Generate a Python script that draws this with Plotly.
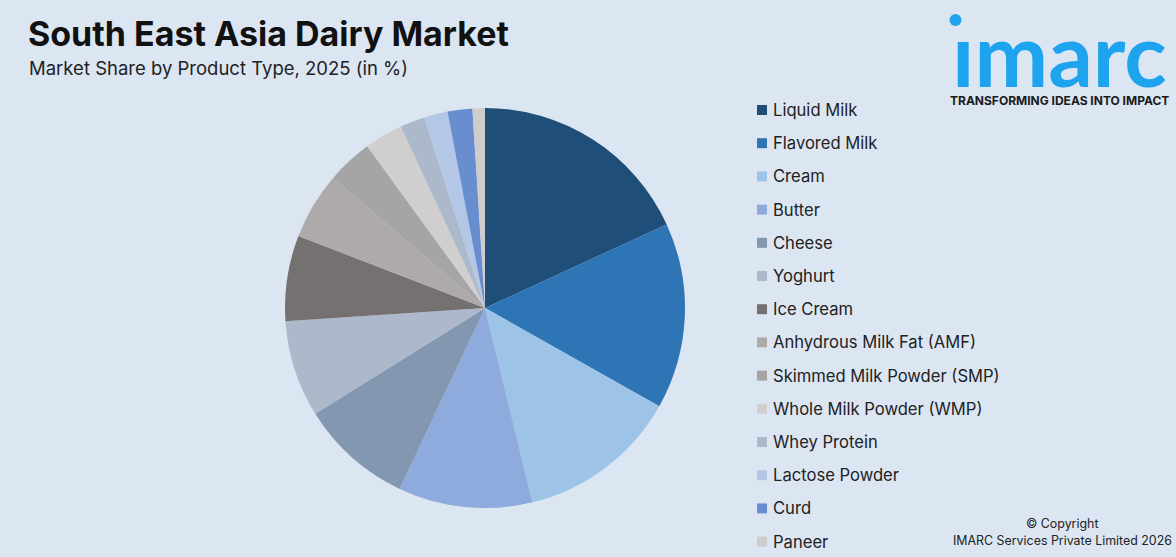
import plotly.graph_objects as go

categories = ["Liquid Milk", "Flavored Milk", "Cream", "Butter", "Cheese", "Yoghurt",
              "Ice Cream", "Anhydrous Milk Fat (AMF)", "Skimmed Milk Powder (SMP)",
              "Whole Milk Powder (WMP)", "Whey Protein", "Lactose Powder", "Curd", "Paneer"]
shares = [18.1, 15.0, 13.0, 10.8, 9.1, 7.8, 6.9, 5.4, 3.7, 3.1, 2.0, 1.9, 2.0, 1.0]
colors = ["#1f4e79", "#2e75b6", "#9dc3e6", "#8faadc", "#8497b0", "#adb9ca",
          "#767171", "#aeaaaa", "#a5a5a5", "#d0cece", "#acb9ca", "#b4c7e7", "#698ed0", "#cfcdcb"]

W, H = 1176, 557
BG = "#dce6f2"
FONT = "Inter"

def px(x):
    return x / W

def py(y):
    return 1 - y / H

fig = go.Figure()
fig.add_trace(go.Pie(
    labels=categories, values=shares, sort=False, direction="clockwise", rotation=0,
    marker=dict(colors=colors, line=dict(width=0)),
    textinfo="none", hoverinfo="label+percent", showlegend=False,
    domain=dict(x=[px(285), px(685)], y=[py(508), py(108)]),
))

annotations = []
shapes = []
for i, (cat, col) in enumerate(zip(categories, colors)):
    yc = 110 + 33.2 * i
    shapes.append(dict(type="rect", xref="paper", yref="paper",
                       x0=px(757), x1=px(767), y0=py(yc + 5), y1=py(yc - 5),
                       fillcolor=col, line=dict(width=0)))
    annotations.append(dict(text=cat, xref="paper", yref="paper", x=px(771), y=py(yc),
                            xanchor="left", yanchor="middle", showarrow=False,
                            font=dict(family=FONT, size=16.6, color="#222222")))

annotations += [
    dict(text="<b>South East Asia Dairy Market</b>", xref="paper", yref="paper",
         x=px(26), y=py(33), xanchor="left", yanchor="middle", showarrow=False,
         font=dict(family=FONT, size=34, color="#111111")),
    dict(text="Market Share by Product Type, 2025 (in %)", xref="paper", yref="paper",
         x=px(27), y=py(68), xanchor="left", yanchor="middle", showarrow=False,
         font=dict(family=FONT, size=18.5, color="#222222")),
    dict(text="<b>\u0131marc</b>", xref="paper", yref="paper",
         x=px(1059), y=py(53), xanchor="center", yanchor="middle", showarrow=False,
         height=80, valign="middle",
         font=dict(family="Lato", size=88, color="#1ea3ef")),
    dict(text="<b>TRANSFORMING IDEAS INTO IMPACT</b>", xref="paper", yref="paper",
         x=px(1059), y=py(100), xanchor="center", yanchor="middle", showarrow=False,
         font=dict(family=FONT, size=12, color="#1a1a1a")),
    dict(text="© Copyright", xref="paper", yref="paper",
         x=px(1062), y=py(523), xanchor="center", yanchor="middle", showarrow=False,
         font=dict(family=FONT, size=12.4, color="#222222")),
    dict(text="IMARC Services Private Limited 2026", xref="paper", yref="paper",
         x=px(1062), y=py(540), xanchor="center", yanchor="middle", showarrow=False,
         font=dict(family=FONT, size=12.4, color="#222222")),
]
shapes.append(dict(type="circle", xref="paper", yref="paper",
                   x0=px(949.5), x1=px(961.5), y0=py(26), y1=py(14),
                   fillcolor="#1ea3ef", line=dict(width=0)))

fig.update_layout(
    width=W, height=H, margin=dict(l=0, r=0, t=0, b=0),
    paper_bgcolor=BG, plot_bgcolor=BG,
    annotations=annotations, shapes=shapes, showlegend=False,
)
fig.write_html("out.html", config={"displayModeBar": False},
               post_script="document.body.style.margin='0px';document.body.style.background='%s';" % BG)
